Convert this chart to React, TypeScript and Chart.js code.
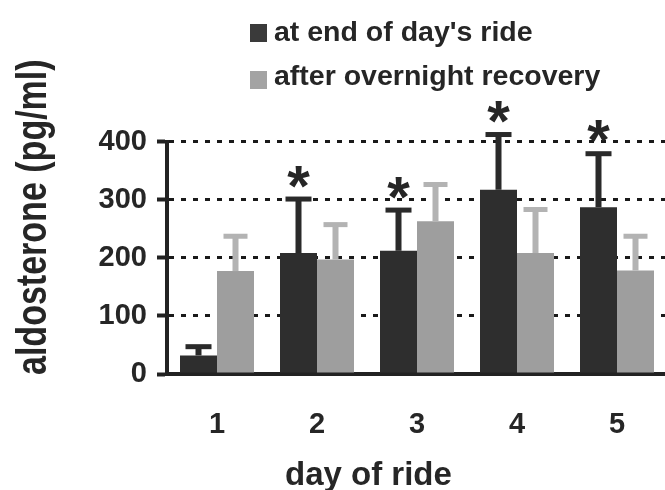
import React, { useEffect, useRef } from "react";
import { Chart, registerables } from "chart.js";

Chart.register(...registerables);

// ---- data ----
const days = ["1", "2", "3", "4", "5"];
const endOfRide = [32, 208, 212, 317, 287];
const endOfRideSem = [15, 93, 70, 95, 92];
const overnight = [177, 197, 263, 208, 178];
const overnightSem = [60, 60, 63, 75, 59];
const significant = [false, true, true, true, true];
const yTicks = [0, 100, 200, 300, 400];
const seriesLabels = ["at end of day's ride", "after overnight recovery"];
const yTitle = "aldosterone (pg/ml)";
const xTitle = "day of ride";

// ---- styles ----
const FONT = '"Liberation Sans", Arial, Helvetica, sans-serif';
const TEXT = "#262626";
const DARK = "#2e2e2e";
const LIGHT = "#9e9e9e";
const DARK_ERR = "#2a2a2a";
const LIGHT_ERR = "#b3b3b3";

const errorSets = [
  { sem: endOfRideSem, color: DARK_ERR, cap: 26 },
  { sem: overnightSem, color: LIGHT_ERR, cap: 24 },
];

const decorPlugin = {
  id: "decor",
  afterDatasetsDraw(chart: any) {
    const ctx = chart.ctx;
    const y = chart.scales.y;
    ctx.save();
    chart.data.datasets.forEach((ds: any, di: number) => {
      const meta = chart.getDatasetMeta(di);
      const es = errorSets[di];
      meta.data.forEach((bar: any, i: number) => {
        const v = ds.data[i];
        const top = y.getPixelForValue(v + es.sem[i]);
        ctx.fillStyle = es.color;
        ctx.fillRect(bar.x - 3, top, 6, bar.y - top);
        ctx.fillRect(bar.x - es.cap / 2, top - 2.5, es.cap, 5);
        if (di === 0 && significant[i]) {
          ctx.font = `bold 58px ${FONT}`;
          ctx.textAlign = "center";
          ctx.textBaseline = "alphabetic";
          const m = ctx.measureText("*");
          const bottom = top - 2.5 - 9;
          ctx.fillStyle = TEXT;
          ctx.fillText("*", bar.x, bottom - m.actualBoundingBoxDescent);
        }
      });
    });
    ctx.restore();
  },
  afterDraw(chart: any) {
    const ctx = chart.ctx;
    ctx.save();
    // legend
    ctx.font = `bold 28.5px ${FONT}`;
    ctx.textAlign = "left";
    ctx.textBaseline = "alphabetic";
    const rows = [
      { color: "#3a3a3a", sq: 24, base: 41 },
      { color: "#a3a3a3", sq: 71, base: 85 },
    ];
    rows.forEach((r, i) => {
      ctx.fillStyle = r.color;
      ctx.fillRect(250, r.sq, 17, 18);
      ctx.fillStyle = TEXT;
      ctx.fillText(seriesLabels[i], 274, r.base);
    });
    // x title
    ctx.font = `bold 33px ${FONT}`;
    ctx.fillStyle = TEXT;
    ctx.fillText(xTitle, 285, 485);
    // y title (narrow bold)
    ctx.translate(46, 375);
    ctx.rotate(-Math.PI / 2);
    ctx.scale(0.81, 1);
    ctx.font = `bold 42px ${FONT}`;
    ctx.fillText(yTitle, 0, 0);
    ctx.restore();
  },
};

export default function App() {
  const ref = useRef<HTMLCanvasElement>(null);
  useEffect(() => {
    document.body.style.margin = "0";
    document.body.style.overflow = "hidden";
    const chart = new Chart(ref.current as HTMLCanvasElement, {
      type: "bar",
      data: {
        labels: days,
        datasets: [
          {
            label: seriesLabels[0],
            data: endOfRide,
            backgroundColor: DARK,
            borderWidth: 0,
            categoryPercentage: 0.74,
            barPercentage: 1.0,
          },
          {
            label: seriesLabels[1],
            data: overnight,
            backgroundColor: LIGHT,
            borderWidth: 0,
            categoryPercentage: 0.74,
            barPercentage: 1.0,
          },
        ],
      },
      options: {
        animation: false,
        responsive: false,
        events: [],
        layout: { padding: { top: 141.5, left: 0, right: 0, bottom: 0 } },
        plugins: {
          legend: { display: false },
          tooltip: { enabled: false },
          title: { display: false },
        },
        scales: {
          x: {
            type: "category",
            offset: true,
            grid: { display: false, drawTicks: false },
            border: { display: true, color: "#222", width: 4 },
            ticks: {
              font: { family: FONT, size: 29, weight: "bold" },
              color: TEXT,
              padding: 34,
              maxRotation: 0,
            },
            afterFit: (s: any) => {
              s.height = 116;
            },
          },
          y: {
            min: 0,
            max: 400,
            afterBuildTicks: (s: any) => {
              s.ticks = yTicks.map((v) => ({ value: v }));
            },
            grid: {
              color: "#1a1a1a",
              lineWidth: 3,
              drawTicks: true,
              tickLength: 10,
              tickColor: "#222",
              tickWidth: 4,
              tickBorderDash: [],
            },
            border: { display: true, color: "#222", width: 4, dash: [5, 7] },
            ticks: {
              font: { family: FONT, size: 29, weight: "bold" },
              color: TEXT,
              padding: 10,
            },
            afterFit: (s: any) => {
              s.width = 167;
            },
          },
        },
      } as any,
      plugins: [decorPlugin],
    });
    return () => chart.destroy();
  }, []);
  return (
    <div style={{ width: 665, height: 490, overflow: "hidden", background: "#fff" }}>
      <canvas ref={ref} width={667} height={490} style={{ display: "block" }} />
    </div>
  );
}
